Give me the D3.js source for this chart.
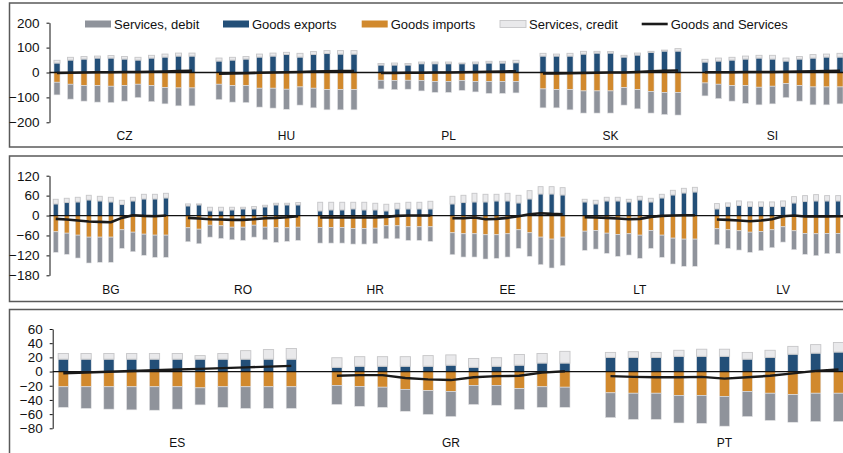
<!DOCTYPE html>
<html>
<head>
<meta charset="utf-8">
<script src="https://cdn.jsdelivr.net/npm/d3@7"></script>
<style>
  body { margin: 0; background: #fff; }
  svg { display: block; font-family: "Liberation Sans", Arial, sans-serif; }
</style>
</head>
<body>
<div id="chart"></div>
<script>
/* DATA */
// panel 1
const p1Countries = ["CZ", "HU", "PL", "SK", "SI"];
const p1Ticks = [200, 100, 0, -100, -200];
const p1Exports = [
  [38, 50, 54, 58, 58, 54, 50, 58, 62, 66, 66],
  [46, 50, 54, 62, 66, 72, 62, 72, 76, 74, 74],
  [30, 30, 30, 35, 35, 35, 35, 35, 38, 38, 39],
  [66, 66, 66, 74, 78, 78, 62, 70, 81, 86, 86],
  [42, 46, 50, 54, 58, 54, 46, 54, 58, 62, 62]
];
const p1Credit = [
  [11, 11, 10, 8, 10, 10, 11, 11, 12, 12, 12],
  [12, 11, 10, 12, 12, 9, 15, 12, 12, 14, 14],
  [6, 8, 6, 7, 7, 7, 3, 7, 7, 7, 10],
  [11, 8, 11, 11, 7, 6, 7, 8, 4, 4, 10],
  [11, 12, 11, 12, 11, 15, 12, 10, 14, 12, 15]
];
const p1Imports = [
  [39, 47, 53, 53, 55, 53, 47, 53, 61, 62, 62],
  [47, 53, 53, 63, 63, 67, 58, 63, 69, 69, 69],
  [31, 32, 31, 32, 36, 36, 32, 36, 36, 36, 36],
  [66, 69, 69, 74, 74, 74, 61, 69, 76, 80, 80],
  [42, 47, 53, 53, 59, 55, 45, 53, 58, 58, 58]
];
const p1Debit = [
  [51, 60, 62, 66, 66, 62, 54, 64, 65, 72, 72],
  [62, 66, 68, 76, 80, 81, 73, 79, 81, 81, 81],
  [35, 37, 36, 42, 44, 44, 40, 42, 48, 48, 46],
  [76, 73, 81, 89, 89, 89, 70, 77, 87, 89, 91],
  [52, 58, 62, 71, 71, 71, 56, 62, 72, 72, 68]
];
const p1Balance = [
  [-2, -1, 0, 1, 1, 2, 2, 3, 4, 6, 7],
  [-5, -4, -3, -1, 0, 1, 2, 4, 5, 6, 6],
  [-2, -2, -1, -1, 0, 0, 1, 2, 3, 4, 5],
  [-4, -4, -3, -2, -1, 0, 0, 2, 5, 7, 8],
  [1, 1, 1, 2, 2, 2, 3, 4, 5, 6, 7]
];

// panel 2
const p2Countries = ["BG", "RO", "HR", "EE", "LT", "LV"];
const p2Ticks = [120, 60, 0, -60, -120, -180];
const p2Exports = [
  [35, 39, 41, 47, 44, 41, 33, 44, 50, 50, 53],
  [29, 32, 14, 14, 17, 20, 20, 26, 32, 32, 32],
  [14, 17, 17, 20, 17, 17, 14, 20, 20, 20, 20],
  [35, 39, 41, 41, 44, 44, 38, 50, 65, 65, 62],
  [41, 35, 44, 44, 41, 47, 41, 53, 62, 68, 71],
  [20, 27, 30, 27, 27, 27, 27, 38, 42, 44, 44, 44, 44]
];
const p2Credit = [
  [14, 13, 14, 14, 14, 14, 13, 11, 14, 14, 14],
  [6, 3, 11, 11, 8, 5, 7, 5, 5, 5, 7],
  [26, 23, 23, 20, 23, 20, 20, 17, 20, 20, 23],
  [23, 22, 26, 23, 20, 23, 23, 25, 22, 22, 22],
  [8, 11, 11, 11, 8, 11, 11, 11, 14, 14, 14],
  [16, 11, 14, 14, 14, 14, 17, 19, 18, 19, 16, 16, 16]
];
const p2Imports = [
  [49, 53, 59, 65, 65, 65, 43, 50, 56, 59, 59],
  [37, 41, 29, 31, 35, 35, 29, 35, 37, 37, 35],
  [36, 36, 36, 39, 39, 38, 31, 31, 34, 34, 34],
  [52, 55, 55, 58, 58, 55, 43, 52, 65, 71, 65],
  [47, 45, 53, 57, 55, 59, 45, 59, 68, 71, 71],
  [40, 43, 46, 50, 48, 43, 34, 46, 54, 55, 54, 54, 54]
];
const p2Debit = [
  [62, 64, 69, 78, 76, 76, 56, 59, 64, 67, 67],
  [42, 44, 36, 38, 38, 40, 36, 38, 44, 41, 40],
  [47, 47, 47, 47, 47, 47, 39, 39, 41, 41, 44],
  [66, 70, 70, 73, 71, 70, 56, 71, 83, 87, 86],
  [58, 56, 61, 66, 64, 70, 54, 67, 78, 82, 82],
  [48, 56, 58, 61, 58, 54, 46, 57, 63, 66, 61, 60, 60]
];
const p2Balance = [
  [-10, -12, -15, -18, -19, -20, -7, 1, -1, -2, 0],
  [-7, -9, -11, -12, -13, -13, -11, -8, -7, -5, -2],
  [-6, -6, -6, -6, -6, -6, -4, -1, 0, 0, 0],
  [-8, -8, -6, -11, -10, -7, -2, 4, 7, 5, 4],
  [-5, -6, -7, -9, -11, -10, -4, -1, 0, 1, 1],
  [-12, -13, -15, -17, -15, -11, -2, 0, -3, -3, -3, -2, -2]
];

// panel 3
const p3Countries = ["ES", "GR", "PT"];
const p3Ticks = [60, 40, 20, 0, -20, -40, -60, -80];
const p3Exports = [
  [17.5, 17.5, 17.5, 17.5, 17.5, 17.5, 17.5, 17.5, 17.5, 17.5, 17.5],
  [6, 7.5, 7.5, 7.5, 7.5, 9, 6, 7.5, 9, 12, 12],
  [20, 20, 20, 21.5, 21.5, 21.5, 17.5, 20, 24.5, 26, 27.5]
];
const p3Credit = [
  [8, 8, 8, 8, 8, 8, 5, 8, 12, 13.5, 15],
  [13.5, 13.5, 13.5, 13.5, 15, 14.5, 12.5, 12, 15, 13.5, 16.5],
  [7, 8, 7, 8.5, 10, 10, 9.5, 10, 11, 12, 13.5]
];
const p3Imports = [
  [21.5, 21.5, 21.5, 21.5, 21.5, 21.5, 23, 21.5, 21.5, 21.5, 21.5],
  [19.5, 21, 22, 25, 27, 28, 19.5, 19.5, 24, 21.5, 22],
  [30, 30.5, 30.5, 33.5, 33.5, 35, 28, 30.5, 32.5, 30.5, 30.5]
];
const p3Debit = [
  [29, 30.5, 31.5, 32.5, 33, 31.5, 24, 29, 30.5, 30.5, 30.5],
  [27, 28, 28.5, 31, 33.5, 35.5, 27, 28, 29.5, 29, 28.5],
  [35, 37, 37, 39, 39.5, 42, 35.5, 38.5, 39, 40, 40]
];
const p3Balance = [
  [-2.4, -1.3, -0.3, 0.7, 1.8, 2.8, 3.8, 4.9, 5.9, 6.9, 8],
  [-6, -5, -5, -9, -11, -12, -8, -6.5, -6, -1.5, 0.5],
  [-6.5, -7.5, -8, -8, -7.5, -10, -8, -6, -2.5, 1, 3]
];

const legendItems = ["Services, debit", "Goods exports", "Goods imports", "Services, credit", "Goods and Services"];

/* STYLE / LAYOUT */
const width = 843, height = 453;
const colors = { deb: "#8f939b", exp: "#234f78", imp: "#d1892d", cred: "#e9e9eb" };

const panels = [
  { countries: p1Countries, exp: p1Exports, cred: p1Credit, imp: p1Imports, deb: p1Debit, bal: p1Balance,
    ticks: p1Ticks, domain: [-200, 200], yRange: [122.3, 22.7], xLeft: 50.25, step: 13.5, axisX: 49.5,
    box: [3, 147], labelY: 140, lineW: 2.6 },
  { countries: p2Countries, exp: p2Exports, cred: p2Credit, imp: p2Imports, deb: p2Debit, bal: p2Balance,
    ticks: p2Ticks, domain: [-180, 120], yRange: [275.3, 175.7], xLeft: 50.2, step: 11.02, axisX: 49.5,
    box: [156, 301.5], labelY: 294, lineW: 2.6 },
  { countries: p3Countries, exp: p3Exports, cred: p3Credit, imp: p3Imports, deb: p3Debit, bal: p3Balance,
    ticks: p3Ticks, domain: [-80, 60], yRange: [428.3, 329], xLeft: 51.9, step: 22.8, axisX: 52.7,
    box: [309.5, 480], labelY: 446.5, lineW: 2.4 }
];

const svg = d3.select("#chart")
  .append("svg")
  .attr("width", width)
  .attr("height", height);

const stack = d3.stack()
  .keys(["exp", "cred", "imp", "deb"])
  .offset(d3.stackOffsetDiverging);

panels.forEach(p => {
  // slot layout: each country gets its bars plus one empty slot
  const rows = [];
  const groups = [];
  let slot = 0;
  p.countries.forEach((c, gi) => {
    const start = slot;
    p.exp[gi].forEach((v, i) => {
      rows.push({
        slot: slot,
        country: c,
        exp: v,
        cred: p.cred[gi][i],
        imp: -p.imp[gi][i],
        deb: -p.deb[gi][i],
        bal: p.bal[gi][i]
      });
      slot++;
    });
    groups.push({ country: c, first: start, last: slot - 1 });
    slot++;
  });
  const total = slot;

  const x = d3.scaleBand()
    .domain(d3.range(total))
    .range([p.xLeft, p.xLeft + total * p.step])
    .paddingInner(0.55)
    .paddingOuter(0.275);
  const y = d3.scaleLinear().domain(p.domain).range(p.yRange);

  const g = svg.append("g");

  // panel frame
  g.append("rect")
    .attr("x", 9.5)
    .attr("y", p.box[0])
    .attr("width", 900)
    .attr("height", p.box[1] - p.box[0])
    .attr("fill", "none")
    .attr("stroke", "#5a5a5a")
    .attr("stroke-width", 1.5);

  // stacked bars
  const series = stack(rows);
  g.selectAll("g.series")
    .data(series)
    .join("g")
    .attr("class", "series")
    .attr("fill", d => colors[d.key])
    .attr("stroke", d => d.key === "cred" ? "#c6c6c8" : "#e4e4e6")
    .attr("stroke-width", d => d.key === "cred" ? 0.9 : 0.6)
    .selectAll("rect")
    .data(d => d)
    .join("rect")
    .attr("x", d => x(d.data.slot))
    .attr("width", x.bandwidth())
    .attr("y", d => y(Math.max(d[0], d[1])))
    .attr("height", d => Math.abs(y(d[0]) - y(d[1])));

  // zero line
  g.append("line")
    .attr("x1", p.axisX)
    .attr("x2", 900)
    .attr("y1", y(0))
    .attr("y2", y(0))
    .attr("stroke", "#111")
    .attr("stroke-width", 1.3);

  // net balance line per country
  const line = d3.line()
    .x(d => x(d.slot) + x.bandwidth() / 2)
    .y(d => y(d.bal));
  groups.forEach(gr => {
    g.append("path")
      .datum(rows.filter(r => r.country === gr.country))
      .attr("fill", "none")
      .attr("stroke", "#1a1a1a")
      .attr("stroke-width", p.lineW)
      .attr("stroke-linejoin", "round")
      .attr("d", line);
  });

  // y axis
  const yAxis = d3.axisLeft(y).tickValues(p.ticks).tickSizeInner(3).tickSizeOuter(0).tickPadding(7);
  const ax = g.append("g")
    .attr("transform", `translate(${p.axisX},0)`)
    .call(yAxis);
  ax.select(".domain").attr("stroke", "#111");
  ax.selectAll(".tick line").attr("stroke", "#111");
  ax.selectAll(".tick text")
    .attr("font-size", "13.5px")
    .attr("font-family", "Liberation Sans, Arial, sans-serif")
    .attr("fill", "#111");

  // country labels
  g.selectAll("text.country")
    .data(groups)
    .join("text")
    .attr("class", "country")
    .attr("x", d => (x(d.first) + x(d.last)) / 2 + x.bandwidth() / 2)
    .attr("y", p.labelY)
    .attr("text-anchor", "middle")
    .attr("font-size", "12px")
    .attr("fill", "#111")
    .text(d => d.country);
});

// legend
const legendX = [85, 223, 361.7, 500, 641.7];
const legendKeys = ["deb", "exp", "imp", "cred", "line"];
const legend = svg.append("g");
legendItems.forEach((t, i) => {
  const k = legendKeys[i];
  if (k === "line") {
    legend.append("line")
      .attr("x1", legendX[i]).attr("x2", legendX[i] + 26)
      .attr("y1", 24).attr("y2", 24)
      .attr("stroke", "#1a1a1a").attr("stroke-width", 2.6);
  } else {
    legend.append("rect")
      .attr("x", legendX[i]).attr("y", 20.5)
      .attr("width", 26).attr("height", 7)
      .attr("fill", colors[k])
      .attr("stroke", k === "cred" ? "#c6c6c8" : "none")
      .attr("stroke-width", 0.9);
  }
  legend.append("text")
    .attr("x", legendX[i] + 29)
    .attr("y", 28.8)
    .attr("font-size", "13px")
    .attr("fill", "#111")
    .text(t);
});
</script>
</body>
</html>
